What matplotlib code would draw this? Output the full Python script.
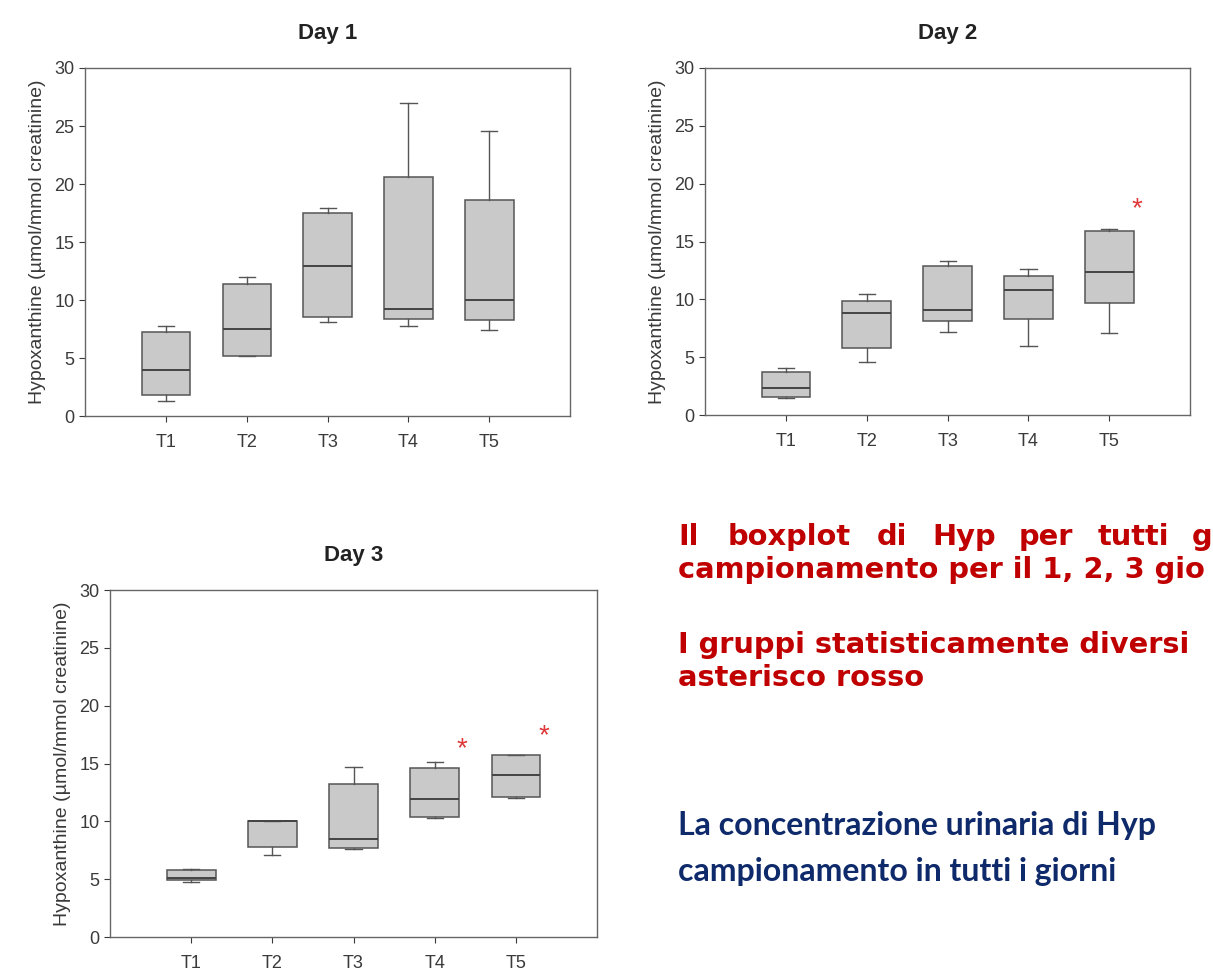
import matplotlib
matplotlib.use("Agg")
import matplotlib.pyplot as plt

# box statistics: whisker low, Q1, median, Q3, whisker high
groups = ["T1", "T2", "T3", "T4", "T5"]

day1_low = [1.3, 5.2, 8.1, 7.8, 7.4]
day1_q1 = [1.8, 5.2, 8.5, 8.4, 8.3]
day1_med = [4.0, 7.5, 12.9, 9.2, 10.0]
day1_q3 = [7.2, 11.4, 17.5, 20.6, 18.6]
day1_high = [7.8, 12.0, 17.9, 27.0, 24.6]

day2_low = [1.5, 4.6, 7.2, 6.0, 7.1]
day2_q1 = [1.6, 5.8, 8.1, 8.3, 9.7]
day2_med = [2.3, 8.8, 9.1, 10.8, 12.4]
day2_q3 = [3.7, 9.9, 12.9, 12.0, 15.9]
day2_high = [4.1, 10.5, 13.3, 12.6, 16.1]

day3_low = [4.8, 7.1, 7.6, 10.3, 12.0]
day3_q1 = [4.9, 7.8, 7.7, 10.4, 12.1]
day3_med = [5.1, 10.0, 8.5, 11.9, 14.0]
day3_q3 = [5.8, 10.0, 13.2, 14.6, 15.7]
day3_high = [5.9, 10.0, 14.7, 15.1, 15.7]

# significant groups (index into groups) and height of the red asterisk
day2_star_idx = [4]
day2_star_y = [17.8]
day3_star_idx = [3, 4]
day3_star_y = [16.2, 17.4]

plt.rcParams['font.family'] = ['Liberation Sans', 'DejaVu Sans']

fig = plt.figure(figsize=(12.13, 9.77), dpi=100)
fig.patch.set_facecolor("white")

box_face = "#c9c9c9"
edge = "#555555"


def draw_panel(rect, title, low, q1, med, q3, high, star_idx=(), star_y=()):
    ax = fig.add_axes(rect)
    stats = []
    for i in range(len(groups)):
        stats.append(dict(whislo=low[i], q1=q1[i], med=med[i], q3=q3[i],
                          whishi=high[i], fliers=[], label=groups[i]))
    ax.bxp(stats, positions=range(1, 6), widths=0.6, capwidths=0.2,
           patch_artist=True, showfliers=False,
           boxprops=dict(facecolor=box_face, edgecolor=edge, linewidth=1.1),
           medianprops=dict(color="#444444", linewidth=1.4),
           whiskerprops=dict(color=edge, linewidth=1.0),
           capprops=dict(color=edge, linewidth=1.0))
    for i, y in zip(star_idx, star_y):
        ax.text(i + 1 + 0.34, y, "*", color="#e0383a", fontsize=20,
                ha="center", va="center")
    ax.set_xlim(0, 6)
    ax.set_ylim(0, 30)
    ax.set_yticks(range(0, 31, 5))
    ax.set_xticks(range(1, 6))
    ax.set_xticklabels(groups)
    ax.tick_params(colors="#3a3a3a", labelsize=13, length=4, width=0.8)
    ax.tick_params(axis="x", pad=9)
    for s in ax.spines.values():
        s.set_color("#666666")
        s.set_linewidth(1.0)
    ax.set_ylabel("Hypoxanthine (\u00b5mol/mmol creatinine)", fontsize=14,
                  color="#3a3a3a", labelpad=6)
    ax.set_title(title, fontsize=16, fontweight="bold", color="#222222", pad=21)
    return ax


draw_panel([0.0701, 0.5742, 0.400, 0.3562], "Day 1",
           day1_low, day1_q1, day1_med, day1_q3, day1_high)
draw_panel([0.5812, 0.5752, 0.400, 0.3552], "Day 2",
           day2_low, day2_q1, day2_med, day2_q3, day2_high,
           day2_star_idx, day2_star_y)
draw_panel([0.0907, 0.0409, 0.4015, 0.3552], "Day 3",
           day3_low, day3_q1, day3_med, day3_q3, day3_high,
           day3_star_idx, day3_star_y)

# slide text on the right, as much of it as shows in the original
red = "#c00000"
blue = "#0f2a6b"
red_kw = dict(color=red, fontsize=20.8, fontweight="bold",
              family="DejaVu Sans", va="center")
blue_kw = dict(color=blue, fontsize=23, fontweight="bold",
               family="Lato", va="center")

line1_words = ["Il", "boxplot", "di", "Hyp", "per", "tutti", "g"]
line1_x = [678, 728, 877, 932, 1019, 1098, 1192]
for w, x in zip(line1_words, line1_x):
    fig.text(x / 1213, 1 - 537 / 977, w, **red_kw)
fig.text(678 / 1213, 1 - 570 / 977, "campionamento per il 1, 2, 3 gio", **red_kw)
fig.text(678 / 1213, 1 - 645 / 977, "I gruppi statisticamente diversi", **red_kw)
fig.text(678 / 1213, 1 - 678 / 977, "asterisco rosso", **red_kw)
fig.text(678 / 1213, 1 - 825 / 977, "La concentrazione urinaria di Hyp", **blue_kw)
fig.text(678 / 1213, 1 - 872 / 977, "campionamento in tutti i giorni", **blue_kw)

fig.savefig("out.png", dpi=100)
